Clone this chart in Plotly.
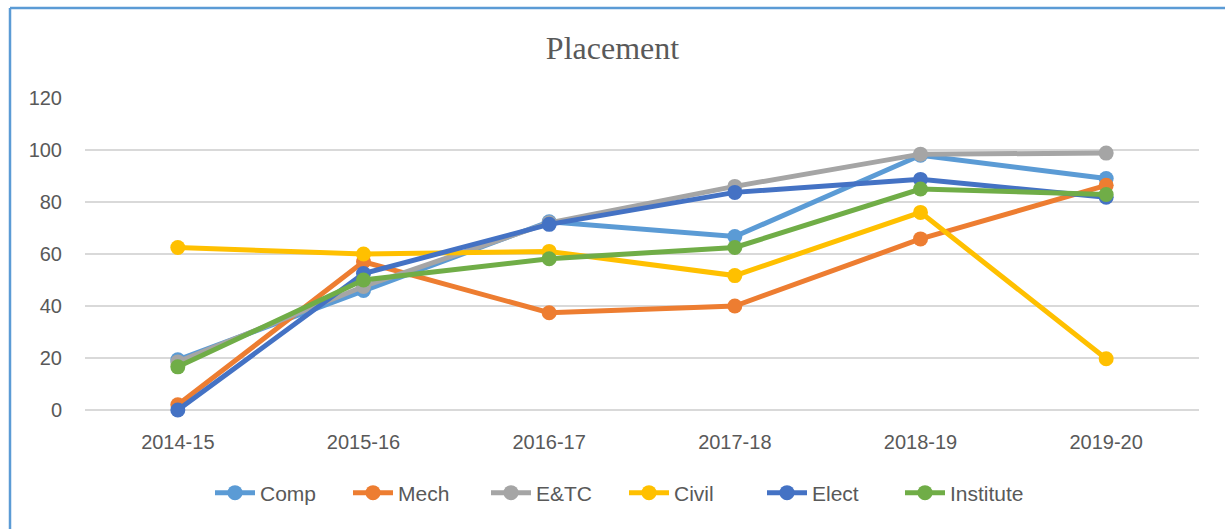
import plotly.graph_objects as go

years = ["2014-15", "2015-16", "2016-17", "2017-18", "2018-19", "2019-20"]
comp = [19.3, 46, 72.4, 66.7, 98, 89]
mech = [2, 57, 37.4, 40, 65.8, 86.4]
etc_ = [18.5, 47.5, 72, 86, 98.4, 98.8]
civil = [62.5, 60, 61, 51.7, 76, 19.7]
elect = [0, 52.5, 71.4, 83.7, 88.7, 81.8]
institute = [16.6, 50, 58.2, 62.5, 85, 82.9]

series = [
    ("Comp", comp, "#5B9BD5"),
    ("Mech", mech, "#ED7D31"),
    ("E&TC", etc_, "#A5A5A5"),
    ("Civil", civil, "#FFC000"),
    ("Elect", elect, "#4472C4"),
    ("Institute", institute, "#70AD47"),
]

fig = go.Figure()
for name, vals, col in series:
    fig.add_trace(go.Scatter(
        x=years, y=vals, name=name, mode="lines+markers",
        line=dict(color=col, width=5),
        marker=dict(color=col, size=15),
        cliponaxis=False,
    ))

W, H = 1225, 529
ml, mr, mt, mb = 85, 26, 98, 119
pw, ph = W - ml - mr, H - mt - mb

def px2x(p):
    return (p - ml) / pw

def px2y(p):
    return (H - mb - p) / ph

border = "#5B9BD5"
fig.add_shape(type="line", xref="paper", yref="paper",
              x0=px2x(10), x1=px2x(1240), y0=px2y(8), y1=px2y(8),
              line=dict(color=border, width=2.5))
fig.add_shape(type="line", xref="paper", yref="paper",
              x0=px2x(10), x1=px2x(10), y0=px2y(8), y1=px2y(545),
              line=dict(color=border, width=2.5))

fig.update_layout(
    width=W, height=H,
    margin=dict(l=ml, r=mr, t=mt, b=mb),
    paper_bgcolor="white", plot_bgcolor="white",
    title=dict(text="Placement", x=0.5, xref="container", xanchor="center",
               y=1 - 48 / H, yref="container", yanchor="middle",
               font=dict(family="Liberation Serif", size=32, color="#595959")),
    font=dict(family="Liberation Sans", size=20, color="#595959"),
    xaxis=dict(type="category", range=[-0.5, 5.5], showgrid=False,
               showline=False, zeroline=False, ticks="",
               tickfont=dict(size=20, color="#595959"), ticklabelstandoff=18),
    yaxis=dict(range=[0, 120], dtick=20, showgrid=True, gridcolor="#D9D9D9",
               gridwidth=1.5, zeroline=True, zerolinecolor="#D9D9D9",
               zerolinewidth=1.5, showline=False, ticks="",
               tickfont=dict(size=20, color="#595959"), ticklabelstandoff=22),
    legend=dict(orientation="h", x=px2x(624), xanchor="center",
                y=px2y(493), yanchor="middle",
                font=dict(size=21, color="#595959"),
                itemwidth=40, tracegroupgap=0,
                entrywidth=83, entrywidthmode="pixels"),
    showlegend=True,
)

fig.write_html("out.html", config={"displayModeBar": False},
               post_script="document.body.style.margin='0';")
